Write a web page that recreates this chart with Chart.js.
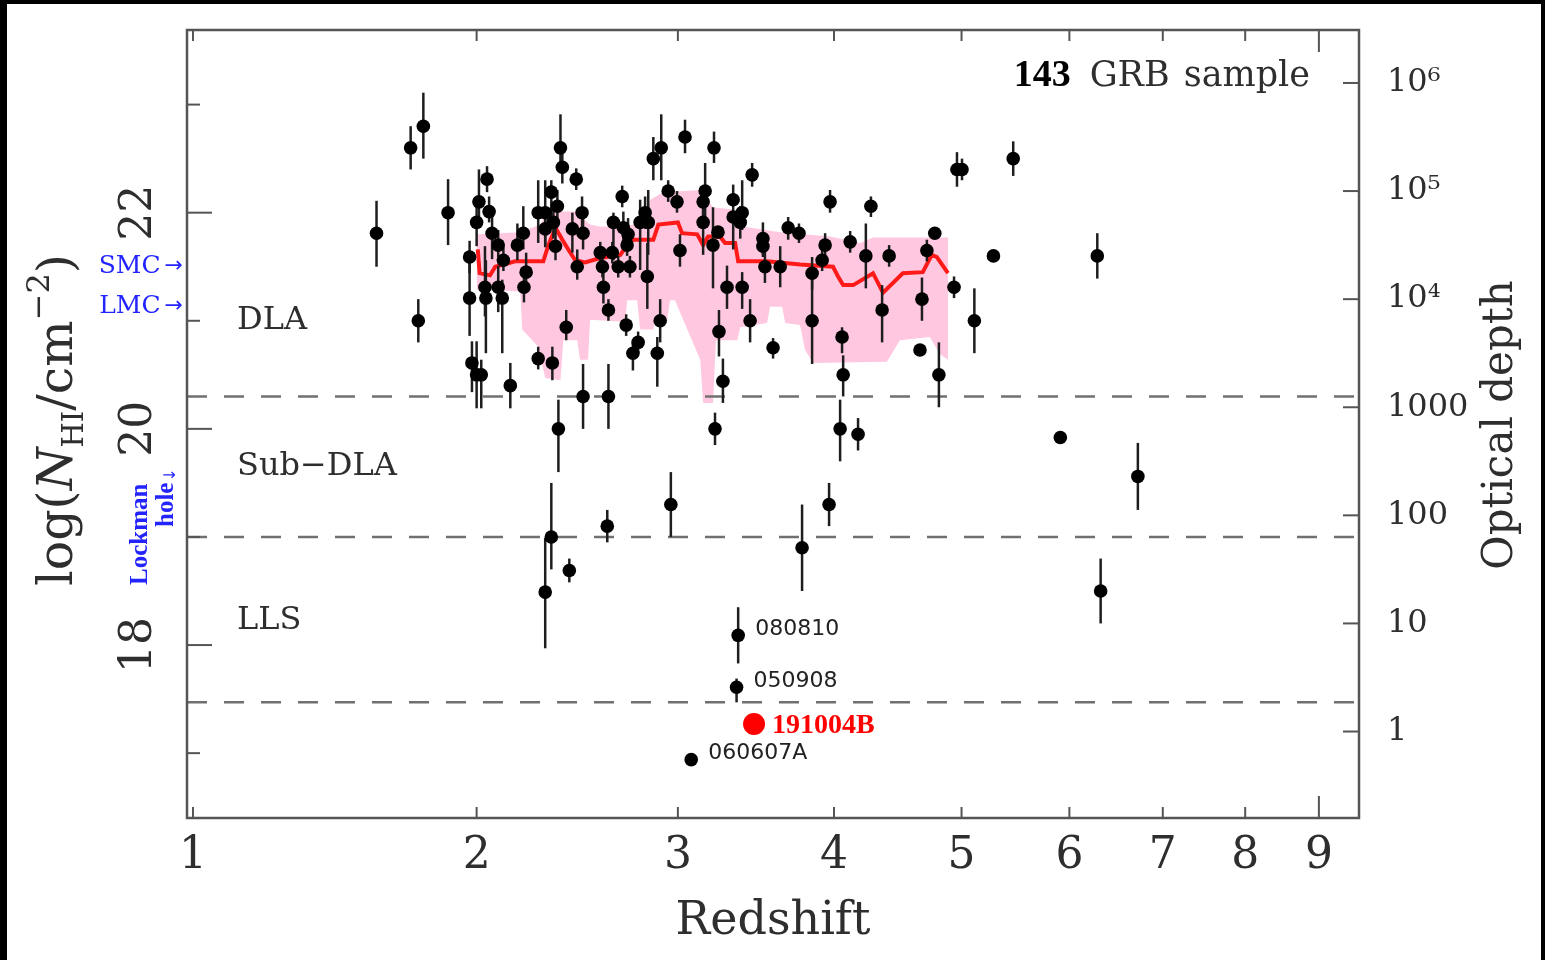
<!DOCTYPE html>
<html>
<head>
<meta charset="utf-8">
<title>GRB HI column densities</title>
<script src="https://cdn.jsdelivr.net/npm/chart.js@4.4.1/dist/chart.umd.min.js"></script>
<style>
  html, body { margin: 0; padding: 0; background: #000; overflow: hidden; }
  #sheet { position: absolute; left: 7px; top: 4px; width: 1534px; height: 956px; background: #fff; }
  #wrap { position: absolute; left: 0; top: 0; width: 1545px; height: 960px; }
</style>
</head>
<body>
<div id="sheet"></div>
<div id="wrap"><canvas id="nhi-chart" width="1545" height="960"></canvas></div>
<script>
// axis ranges (redshift on a log(1+z) axis, log N_HI on the left)
const zRange = [0.983, 9.59];
const logNRange = [16.40, 23.69];
const tauOffset = 17.2;            // log tau = log N_HI - 17.2

const zTicks = [1, 2, 3, 4, 5, 6, 7, 8, 9];
const logNMajor = [18, 20, 22];
const logNMinor = [17, 19, 21, 23];
const tauTicks = [1, 10, 100, 1000, 1e4, 1e5, 1e6];
const tauLabels = ['1', '10', '100', '1000', '10\u2074', '10\u2075', '10\u2076'];

// GRB afterglow measurements
const grbZ = [
  1.60, 1.73, 1.78, 1.76, 1.88, 1.97, 1.97, 1.98, 2.00, 2.02,
  2.01, 2.00, 2.045, 2.054, 2.067, 2.094, 2.036, 2.04, 2.094, 2.112,
  2.117, 2.148, 2.18, 2.207, 2.22, 2.21, 2.276, 2.309, 2.309, 2.338,
  2.348, 2.367, 2.382, 2.391, 2.44, 2.459, 2.488, 2.493, 2.358, 2.464,
  2.41, 2.276, 2.343, 2.493, 2.622, 2.372, 2.338, 2.309, 2.425, 2.616,
  2.648, 2.694, 2.70, 2.725, 2.79, 2.834, 2.817, 2.862, 2.906, 3.041,
  2.945, 2.995, 3.159, 3.147, 3.147, 3.212, 3.329, 3.236, 3.329, 3.385,
  3.373, 3.448, 3.012, 3.206, 3.517, 3.517, 3.683, 3.756, 3.972, 3.937,
  4.117, 3.53, 3.63, 3.916, 3.846, 3.846, 4.058, 4.066, 4.044, 4.175,
  3.965, 3.777, 4.271, 4.233, 4.41, 4.71, 4.775, 4.961, 5.004, 5.46,
  5.28, 6.285, 4.356, 4.67, 4.936, 5.111, 4.654, 4.809, 5.91, 6.72,
  6.32, 3.218, 2.96, 3.36, 3.35, 3.077, 2.591, 2.596, 2.622, 2.58,
  2.642, 2.673, 2.735, 2.72, 2.829, 2.715, 2.779, 2.751, 2.90, 2.884,
  3.242, 3.266, 3.291, 3.385, 3.435, 3.583
];
const grbLogN = [
  21.81, 22.60, 22.80, 21.00, 22.00, 21.59, 21.21, 20.61, 20.50, 20.50,
  22.10, 21.91, 22.31, 22.01, 21.81, 21.70, 21.31, 21.21, 21.31, 21.21,
  21.56, 20.40, 21.70, 21.81, 21.45, 21.31, 22.00, 22.00, 21.85, 22.19,
  21.91, 22.06, 22.60, 22.42, 21.85, 22.31, 22.00, 21.81, 21.69, 21.50,
  20.94, 20.65, 20.61, 20.30, 20.30, 20.00, 19.00, 18.49, 18.69, 19.10,
  21.91, 22.15, 21.86, 21.80, 21.91, 21.91, 22.00, 22.50, 22.60, 22.70,
  22.20, 22.10, 22.20, 22.10, 21.91, 22.60, 22.12, 21.82, 21.96, 22.00,
  21.91, 22.35, 21.65, 21.70, 21.76, 21.69, 21.86, 21.81, 22.10, 21.70,
  21.73, 21.50, 21.50, 21.56, 21.44, 21.00, 20.85, 20.50, 20.00, 19.95,
  19.30, 18.90, 22.06, 21.60, 21.60, 21.65, 21.81, 22.40, 22.40, 22.50,
  21.60, 21.60, 21.10, 21.20, 21.31, 21.00, 20.73, 20.50, 19.92, 19.56,
  18.50, 20.00, 19.30, 18.09, 17.61, 16.94, 21.50, 21.31, 21.10, 21.63,
  21.63, 21.50, 21.50, 21.70, 21.41, 20.96, 20.80, 20.70, 21.00, 20.70,
  20.90, 20.44, 21.31, 21.31, 21.00, 20.75
];
const grbErrUp = [
  0.30, 0.20, 0.31, 0.20, 0.31, 0.15, 0.35, 0.20, 0.31, 0.14,
  0.30, 0.15, 0.12, 0.14, 0.20, 0.14, 0.38, 0.35, 0.20, 0.17,
  0.12, 0.21, 0.20, 0.25, 0.18, 0.10, 0.30, 0.30, 0.20, 0.11,
  0.15, 0.15, 0.31, 0.15, 0.15, 0.10, 0.15, 0.15, 0.18, 0.16,
  0.16, 0.11, 0.15, 0.30, 0.30, 0.27, 0.50, 0.50, 0.11, 0.15,
  0.09, 0.10, 0.15, 0.15, 0.21, 0.30, 0.15, 0.20, 0.31, 0.16,
  0.10, 0.10, 0.26, 0.15, 0.30, 0.15, 0, 0, 0.30, 0.30,
  0.15, 0.11, 0.15, 0.35, 0.15, 0.10, 0.10, 0.09, 0.11, 0.11,
  0.10, 0.15, 0.19, 0.10, 0.15, 0.45, 0.09, 0.18, 0.27, 0.15,
  0.20, 0.40, 0.09, 0.30, 0.10, 0.10, 0, 0.16, 0.10, 0.16,
  0, 0.21, 0.23, 0.20, 0.10, 0.30, 0, 0.30, 0, 0.31,
  0.30, 0.15, 0.30, 0.26, 0.08, 0, 0.10, 0.15, 0.10, 0.10,
  0.10, 0.10, 0.10, 0.10, 0.31, 0.10, 0.10, 0.10, 0.20, 0.15,
  0.20, 0.21, 0.20, 0.14, 0.20, 0.09
];
const grbErrDn = [
  0.31, 0.20, 0.30, 0.20, 0.30, 0.15, 0.35, 0.27, 0.31, 0.31,
  0.23, 0.22, 0.12, 0.10, 0.24, 0.11, 0.27, 0.51, 0.23, 0.51,
  0.10, 0.21, 0.14, 0.15, 0.14, 0.14, 0.28, 0.30, 0.17, 0.32,
  0.15, 0.15, 0.20, 0.15, 0.22, 0.10, 0.15, 0.15, 0.13, 0.12,
  0.12, 0.10, 0.16, 0.30, 0.30, 0.40, 0.30, 0.52, 0.11, 0.15,
  0.35, 0.10, 0.15, 0.15, 0.44, 0.30, 0.15, 0.20, 0.30, 0.15,
  0.10, 0.10, 0.30, 0.15, 0.30, 0.14, 0, 0, 0.30, 0.16,
  0.15, 0.11, 0.15, 0.40, 0.15, 0.10, 0.11, 0.09, 0.10, 0.11,
  0.10, 0.15, 0.19, 0.10, 0.15, 0.40, 0.15, 0.20, 0.30, 0.15,
  0.20, 0.40, 0.10, 0.30, 0.10, 0.10, 0, 0.16, 0.10, 0.16,
  0, 0.21, 0.30, 0.20, 0.10, 0.30, 0, 0.30, 0, 0.31,
  0.30, 0.15, 0.30, 0.26, 0.14, 0, 0.10, 0.15, 0.10, 0.10,
  0.10, 0.10, 0.10, 0.10, 0.30, 0.10, 0.10, 0.16, 0.20, 0.31,
  0.23, 0.20, 0.20, 0.20, 0.20, 0.10
];

// labelled bursts
const labelNames = ['080810', '050908', '060607A'];
const labelZ = [3.36, 3.35, 3.077];
const labelLogN = [18.09, 17.61, 16.94];
const hlName = '191004B';
const hlZ = 3.46;
const hlLogN = 17.27;

// running median and its spread
const medZ = [2.005, 2.013, 2.058, 2.081, 2.17, 2.30, 2.324, 2.358, 2.391, 2.42,
  2.454, 2.503, 2.58, 2.684, 2.72, 2.751, 2.862, 2.89, 3.0, 3.024,
  3.112, 3.147, 3.177, 3.248, 3.279, 3.341, 3.36, 3.544, 3.763, 3.993,
  4.029, 4.066, 4.139, 4.287, 4.363, 4.517, 4.677, 4.75, 4.792, 4.885];
const medLogN = [21.66, 21.44, 21.42, 21.50, 21.55, 21.55, 21.70, 21.86, 21.75, 21.66,
  21.56, 21.54, 21.58, 21.61, 21.70, 21.75, 21.75, 21.89, 21.91, 21.81,
  21.80, 21.70, 21.78, 21.78, 21.72, 21.72, 21.55, 21.55, 21.52, 21.50,
  21.41, 21.33, 21.33, 21.44, 21.26, 21.44, 21.45, 21.61, 21.59, 21.44];
const bandHiZ = [2.0, 2.103, 2.193, 2.285, 2.324, 2.454, 2.528, 2.58, 2.79, 2.845,
  2.917, 3.13, 3.206, 3.329, 3.40, 3.63, 3.972, 4.19, 4.286, 4.885];
const bandHi = [21.80, 21.81, 21.82, 21.89, 22.01, 22.01, 21.89, 21.87, 21.89, 22.12,
  22.19, 22.21, 22.05, 22.03, 21.87, 21.82, 21.78, 21.72, 21.77, 21.77];
const bandLoZ = [2.0, 2.193, 2.202, 2.276, 2.309, 2.382, 2.396, 2.464, 2.478, 2.518,
  2.528, 2.71, 2.72, 2.773, 2.79, 2.862, 2.873, 2.94, 2.956, 2.983,
  3.13, 3.147, 3.206, 3.224, 3.354, 3.373, 3.544, 3.563, 3.643, 3.663,
  3.763, 3.797, 3.853, 4.393, 4.494, 4.734, 4.817, 4.885];
const bandLo = [21.29, 21.27, 20.92, 20.76, 20.47, 20.45, 20.82, 20.82, 20.64, 20.64,
  21.01, 20.99, 21.19, 21.19, 20.92, 20.92, 21.01, 21.01, 21.19, 21.19,
  20.64, 20.24, 20.24, 20.82, 20.82, 20.94, 20.98, 21.13, 21.13, 20.98,
  20.96, 20.73, 20.61, 20.62, 20.82, 20.85, 20.69, 20.64];

// absorber classes
const limitLogN = [20.3, 19.0, 17.47];
const regionNames = ['DLA', 'Sub\u2212DLA', 'LLS'];
const regionLogN = [21.0, 19.65, 18.23];
const smcLogN = 21.5;
const lmcLogN = 21.13;
const sampleSize = 143;

const SERIF = '"DejaVu Serif", serif';
const TIMES = '"Liberation Serif", serif';
const SANS = '"DejaVu Sans", sans-serif';
const INK = '#2e2e2e';
const BLUE = '#2424ff';

const pts = (zs, ys) => zs.map((z, i) => ({ x: 1 + z, y: ys[i] }));

function rotText(ctx, s, x, y, font, color, align, baseline) {
  ctx.save();
  ctx.translate(x, y);
  ctx.rotate(-Math.PI / 2);
  ctx.font = font;
  ctx.fillStyle = color;
  ctx.textAlign = align;
  ctx.textBaseline = baseline;
  ctx.fillText(s, 0, 0);
  ctx.restore();
}

// keep the plot box fixed: no extra room for label overhang
function fixBox(size) {
  return s => {
    if (s.isHorizontal()) s.height = size; else s.width = size;
    s.paddingTop = 0; s.paddingBottom = 0; s.paddingLeft = 0; s.paddingRight = 0;
  };
}

const errorBars = {
  id: 'errorBars',
  beforeDatasetDraw(chart, args) {
    if (args.index !== 1) return;
    const { ctx, scales: { x, y } } = chart;
    ctx.save();
    ctx.strokeStyle = '#1e1e1e';
    ctx.lineWidth = 2.5;
    grbZ.forEach((z, i) => {
      if (!grbErrUp[i] && !grbErrDn[i]) return;
      const px = x.getPixelForValue(1 + z);
      ctx.beginPath();
      ctx.moveTo(px, y.getPixelForValue(grbLogN[i] + grbErrUp[i]));
      ctx.lineTo(px, y.getPixelForValue(grbLogN[i] - grbErrDn[i]));
      ctx.stroke();
    });
    ctx.restore();
  }
};

const decor = {
  id: 'decor',
  afterDraw(chart) {
    const { ctx, chartArea: a } = chart;
    const xs = chart.scales.x, ys = chart.scales.y, y2 = chart.scales.y2;
    const seg = (x1, y1, x2, y2_) => { ctx.beginPath(); ctx.moveTo(x1, y1); ctx.lineTo(x2, y2_); ctx.stroke(); };
    ctx.save();

    // frame and inward ticks
    ctx.strokeStyle = '#555';
    ctx.lineWidth = 2.5;
    ctx.strokeRect(a.left, a.top, a.right - a.left, a.bottom - a.top);
    ctx.lineWidth = 2;
    zTicks.forEach(z => {
      const px = xs.getPixelForValue(1 + z);
      const len = z === 9 ? 22 : 11;
      seg(px, a.bottom, px, a.bottom - len);
      seg(px, a.top, px, a.top + len);
    });
    logNMajor.forEach(v => { const py = ys.getPixelForValue(v); seg(a.left, py, a.left + 25, py); });
    logNMinor.forEach(v => { const py = ys.getPixelForValue(v); seg(a.left, py, a.left + 13, py); });
    tauTicks.forEach(t => { const py = y2.getPixelForValue(t); seg(a.right, py, a.right - 16, py); });

    // left tick labels (rotated)
    logNMajor.forEach(v => rotText(ctx, String(v), 140, ys.getPixelForValue(v), `44px ${SERIF}`, INK, 'center', 'middle'));

    // left axis title: log(N_HI / cm^-2)
    const parts = [
      { t: 'log(', f: `49px ${SERIF}`, dy: 0 },
      { t: 'N', f: `italic 49px ${SERIF}`, dy: 0 },
      { t: 'HI', f: `29px ${SERIF}`, dy: 11 },
      { t: '/cm', f: `49px ${SERIF}`, dy: 0 },
      { t: '\u22122', f: `32px ${SERIF}`, dy: -23 },
      { t: ')', f: `49px ${SERIF}`, dy: 0 }
    ];
    let total = 0;
    parts.forEach(p => { ctx.font = p.f; p.w = ctx.measureText(p.t).width; total += p.w; });
    ctx.save();
    ctx.translate(72, 420 + total / 2);
    ctx.rotate(-Math.PI / 2);
    ctx.fillStyle = INK;
    ctx.textAlign = 'left';
    ctx.textBaseline = 'alphabetic';
    let cx = 0;
    parts.forEach(p => { ctx.font = p.f; ctx.fillText(p.t, cx, p.dy); cx += p.w; });
    ctx.restore();

    // right axis title
    rotText(ctx, 'Optical depth', 1512, 425, `42px ${SERIF}`, INK, 'center', 'alphabetic');

    // SMC / LMC markers
    ctx.textBaseline = 'middle';
    [['SMC', smcLogN], ['LMC', lmcLogN]].forEach(([name, v]) => {
      const py = ys.getPixelForValue(v);
      ctx.fillStyle = BLUE;
      ctx.textAlign = 'right';
      ctx.font = `22px ${SANS}`;
      ctx.fillText('\u2192', a.left - 4, py);
      const aw = ctx.measureText('\u2192').width;
      ctx.font = `25px ${SERIF}`;
      ctx.fillText(name, a.left - 8 - aw, py);
    });

    // Lockman hole
    rotText(ctx, 'Lockman', 147, 585, `bold 25px ${TIMES}`, BLUE, 'left', 'alphabetic');
    ctx.save();
    ctx.translate(173, 527);
    ctx.rotate(-Math.PI / 2);
    ctx.font = `bold 25px ${TIMES}`;
    ctx.fillStyle = BLUE;
    ctx.textAlign = 'left';
    ctx.textBaseline = 'alphabetic';
    ctx.fillText('hole', 0, 0);
    const hw = ctx.measureText('hole').width;
    ctx.font = `16px ${SANS}`;
    ctx.fillText('\u2193', hw + 1, 2);
    ctx.restore();

    // absorber class names
    ctx.fillStyle = INK;
    ctx.textAlign = 'left';
    ctx.textBaseline = 'middle';
    ctx.font = `32px ${SERIF}`;
    regionNames.forEach((n, i) => ctx.fillText(n, a.left + 50, ys.getPixelForValue(regionLogN[i])));

    // sample size
    ctx.textBaseline = 'alphabetic';
    ctx.textAlign = 'right';
    ctx.font = `35px ${SERIF}`;
    let rx = 1310;
    ctx.fillText('sample', rx, 86);
    rx -= ctx.measureText('sample').width + 14;
    ctx.fillText('GRB', rx, 86);
    rx -= ctx.measureText('GRB').width + 19;
    ctx.font = `bold 38px ${TIMES}`;
    ctx.fillStyle = '#000';
    ctx.fillText(String(sampleSize), rx, 86);

    // burst names
    ctx.textAlign = 'left';
    ctx.textBaseline = 'middle';
    ctx.fillStyle = '#222';
    ctx.font = `22px ${SANS}`;
    labelNames.forEach((n, i) => {
      ctx.fillText(n, xs.getPixelForValue(1 + labelZ[i]) + 17, ys.getPixelForValue(labelLogN[i]) - 6);
    });
    ctx.fillStyle = '#ff0000';
    ctx.font = `bold 28px ${TIMES}`;
    ctx.fillText(hlName, xs.getPixelForValue(1 + hlZ) + 18, ys.getPixelForValue(hlLogN) + 2);

    ctx.restore();
  }
};

const xLo = 1 + zRange[0], xHi = 1 + zRange[1];

const datasets = [
  { label: hlName, data: [{ x: 1 + hlZ, y: hlLogN }], pointRadius: 11, pointHoverRadius: 11,
    backgroundColor: '#ff0000', borderWidth: 0, order: 0 },
  { label: 'GRB', data: pts(grbZ, grbLogN), pointRadius: 6.8, pointHoverRadius: 6.8,
    backgroundColor: '#000', borderWidth: 0, order: 1 },
  ...limitLogN.map(v => ({
    type: 'line', label: 'limit ' + v, data: [{ x: xLo, y: v }, { x: xHi, y: v }],
    borderColor: '#707070', borderWidth: 2.5, borderDash: [20, 17], pointRadius: 0, fill: false, order: 2
  })),
  { type: 'line', label: 'median', data: pts(medZ, medLogN), borderColor: '#ff1a1a', borderWidth: 4,
    pointRadius: 0, fill: false, tension: 0, order: 3 },
  { type: 'line', label: 'band hi', data: pts(bandHiZ, bandHi), borderWidth: 0, pointRadius: 0,
    backgroundColor: 'rgb(255,200,224)', fill: '+1', order: 4 },
  { type: 'line', label: 'band lo', data: pts(bandLoZ, bandLo), borderWidth: 0, pointRadius: 0,
    fill: false, order: 5 }
];

new Chart(document.getElementById('nhi-chart'), {
  type: 'scatter',
  data: { datasets },
  options: {
    responsive: false,
    animation: false,
    devicePixelRatio: 1,
    events: [],
    layout: { padding: { top: 30, left: 0, right: 0, bottom: 0 } },
    plugins: { legend: { display: false }, tooltip: { enabled: false } },
    scales: {
      x: {
        type: 'logarithmic', position: 'bottom', min: xLo, max: xHi,
        afterBuildTicks: s => { s.ticks = zTicks.map(z => ({ value: 1 + z })); },
        afterFit: fixBox(142),
        grid: { display: false, drawTicks: false },
        border: { display: false },
        ticks: { autoSkip: false, maxRotation: 0, minRotation: 0, padding: 12, color: INK,
          font: { family: SERIF, size: 44 }, callback: v => String(Math.round(v - 1)) },
        title: { display: true, text: 'Redshift', color: INK, font: { family: SERIF, size: 46 },
          padding: { top: 0, bottom: 10 } }
      },
      y: {
        type: 'linear', position: 'left', min: logNRange[0], max: logNRange[1],
        afterFit: fixBox(187),
        grid: { display: false, drawTicks: false },
        border: { display: false },
        ticks: { display: false }
      },
      y2: {
        type: 'logarithmic', position: 'right',
        min: Math.pow(10, logNRange[0] - tauOffset), max: Math.pow(10, logNRange[1] - tauOffset),
        afterBuildTicks: s => { s.ticks = tauTicks.map(t => ({ value: t })); },
        afterFit: fixBox(186),
        grid: { display: false, drawTicks: false },
        border: { display: false },
        ticks: { autoSkip: false, padding: 28, color: INK, font: { family: SERIF, size: 32 },
          callback: (v, i) => tauLabels[i] }
      }
    }
  },
  plugins: [errorBars, decor]
});
</script>
</body>
</html>
